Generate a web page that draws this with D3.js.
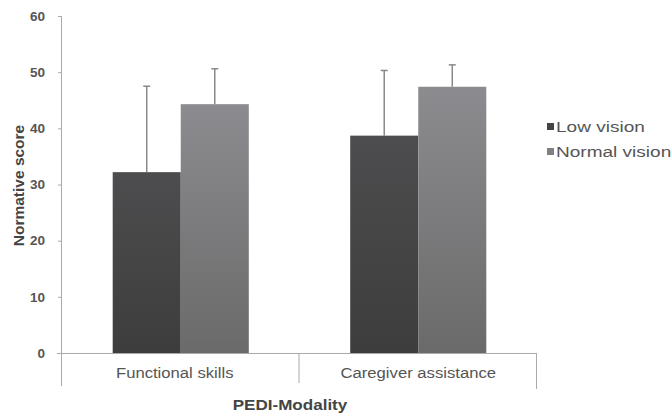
<!DOCTYPE html>
<html>
<head>
<meta charset="utf-8">
<script src="https://cdn.jsdelivr.net/npm/d3@7"></script>
<style>
  body { margin: 0; background: #fff; }
  svg { display: block; font-family: "Liberation Sans", Arial, sans-serif; }
</style>
</head>
<body>
<div id="chart"></div>
<script>
const categories = ["Functional skills", "Caregiver assistance"];
const seriesNames = ["Low vision", "Normal vision"];
const lowVision = [32.2, 38.7];
const normalVision = [44.3, 47.4];
const lowVisionSd = [15.3, 11.6];
const normalVisionSd = [6.3, 3.9];
const yTicks = [0, 10, 20, 30, 40, 50, 60];

const data = categories.map((c, i) => ({
  category: c,
  values: [
    { key: seriesNames[0], value: lowVision[i], sd: lowVisionSd[i] },
    { key: seriesNames[1], value: normalVision[i], sd: normalVisionSd[i] }
  ]
}));

const width = 672, height = 413;
const margin = { top: 16, right: 135, bottom: 60, left: 62 };

const svg = d3.select("#chart").append("svg")
  .attr("width", width)
  .attr("height", height);

const defs = svg.append("defs");
const gradients = [
  { id: "gLow", top: "#4d4d4f", bottom: "#3d3d3d" },
  { id: "gNormal", top: "#8c8c90", bottom: "#6a6a6a" }
];
gradients.forEach(g => {
  const lg = defs.append("linearGradient")
    .attr("id", g.id).attr("x1", 0).attr("y1", 0).attr("x2", 0).attr("y2", 1);
  lg.append("stop").attr("offset", "0%").attr("stop-color", g.top);
  lg.append("stop").attr("offset", "100%").attr("stop-color", g.bottom);
});
const color = d3.scaleOrdinal().domain(seriesNames).range(["url(#gLow)", "url(#gNormal)"]);
const legendColor = d3.scaleOrdinal().domain(seriesNames).range(["#444", "#808083"]);

const x0 = d3.scaleBand()
  .domain(categories)
  .range([margin.left, 537])
  .padding(0);

const x1 = d3.scaleBand()
  .domain(seriesNames)
  .range([0, x0.bandwidth()])
  .paddingInner(0)
  .paddingOuter(0.745);

const y = d3.scaleLinear()
  .domain([0, 60])
  .range([353, margin.top]);

// the picture text is a bit wider than normal, so stretch it sideways
const stretch = (sel, x, y, sx) =>
  sel.attr("transform", (d, i) => "translate(" + (typeof x === "function" ? x(d, i) : x) + "," +
    (typeof y === "function" ? y(d, i) : y) + ") scale(" + sx + ",1)");

// y axis
const yAxis = svg.append("g")
  .attr("transform", "translate(" + margin.left + ",0)")
  .call(d3.axisLeft(y).tickValues(yTicks).tickSize(4).tickSizeOuter(0).tickPadding(13));
yAxis.select(".domain").remove();
yAxis.append("line")
  .attr("x1", -0.5).attr("x2", -0.5)
  .attr("y1", y(60)).attr("y2", 386)
  .attr("stroke", "#aaa");
yAxis.selectAll(".tick line").attr("stroke", "#aaa");
yAxis.selectAll(".tick text")
  .attr("fill", "#555")
  .style("font-size", "13.5px")
  .style("font-weight", "bold");

// x axis
svg.append("line")
  .attr("x1", 57).attr("x2", 537)
  .attr("y1", y(0) + 0.5).attr("y2", y(0) + 0.5)
  .attr("stroke", "#aaa");
const seps = [x0(categories[1]), x0.range()[1]];
svg.selectAll(".sep")
  .data(seps)
  .join("line")
  .attr("class", "sep")
  .attr("x1", d => d - 0.5).attr("x2", d => d - 0.5)
  .attr("y1", y(0)).attr("y2", (d, i) => i === 0 ? 383 : 389)
  .attr("stroke", "#aaa");

svg.selectAll(".xlabel")
  .data(categories)
  .join("text")
  .attr("class", "xlabel")
  .attr("text-anchor", "middle")
  .attr("fill", "#555")
  .style("font-size", "14.5px")
  .text(d => d)
  .call(stretch, (d, i) => x0(d) + x0.bandwidth() / 2 - (i === 0 ? 6 : 0), 378, 1.15);

// bars
const groups = svg.selectAll(".group")
  .data(data)
  .join("g")
  .attr("class", "group")
  .attr("transform", d => "translate(" + x0(d.category) + ",0)");

groups.selectAll("rect")
  .data(d => d.values)
  .join("rect")
  .attr("x", d => x1(d.key))
  .attr("y", d => y(d.value))
  .attr("width", x1.bandwidth())
  .attr("height", d => y(0) - y(d.value))
  .attr("fill", d => color(d.key));

// error bars (upper only)
groups.selectAll(".err")
  .data(d => d.values)
  .join("line")
  .attr("class", "err")
  .attr("x1", d => x1(d.key) + x1.bandwidth() / 2)
  .attr("x2", d => x1(d.key) + x1.bandwidth() / 2)
  .attr("y1", d => y(d.value))
  .attr("y2", d => y(d.value + d.sd))
  .attr("stroke", "#888")
  .attr("stroke-width", 1.5);
groups.selectAll(".cap")
  .data(d => d.values)
  .join("line")
  .attr("class", "cap")
  .attr("x1", d => x1(d.key) + x1.bandwidth() / 2 - 3.5)
  .attr("x2", d => x1(d.key) + x1.bandwidth() / 2 + 3.5)
  .attr("y1", d => y(d.value + d.sd))
  .attr("y2", d => y(d.value + d.sd))
  .attr("stroke", "#888")
  .attr("stroke-width", 1.5);

// axis titles
svg.append("text")
  .attr("transform", "translate(24," + (y(30) + 1) + ") rotate(-90)")
  .attr("text-anchor", "middle")
  .attr("fill", "#444")
  .style("font-size", "15.5px")
  .style("font-weight", "bold")
  .text("Normative score");

svg.append("text")
  .attr("text-anchor", "middle")
  .attr("fill", "#444")
  .style("font-size", "15.5px")
  .style("font-weight", "bold")
  .text("PEDI-Modality")
  .call(stretch, 290, 410, 1.1);

// legend
const legend = svg.selectAll(".legend")
  .data(seriesNames)
  .join("g")
  .attr("class", "legend")
  .attr("transform", (d, i) => "translate(547," + (126 + i * 25) + ")");
legend.append("rect")
  .attr("x", 0).attr("y", -3)
  .attr("width", 7).attr("height", 7)
  .attr("fill", d => legendColor(d));
legend.append("text")
  .attr("fill", "#555")
  .style("font-size", "15px")
  .text(d => d)
  .call(stretch, 9, 6, 1.27);
</script>
</body>
</html>
